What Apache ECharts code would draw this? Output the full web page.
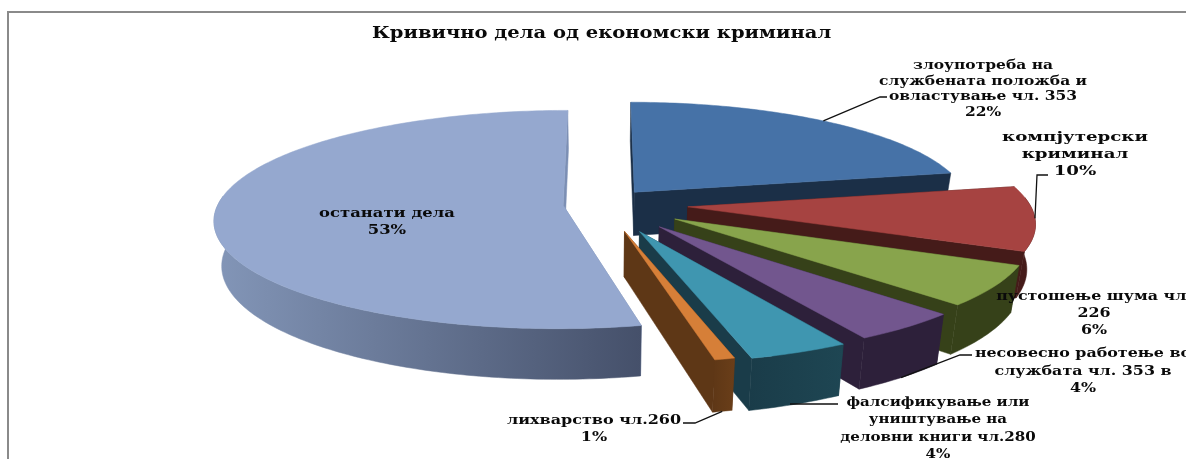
<!DOCTYPE html>
<html><head><meta charset="utf-8">
<style>html,body{margin:0;padding:0;background:#fff;overflow:hidden}#c{width:1186px;height:459px}</style>
<script src="https://cdn.jsdelivr.net/npm/echarts@6/dist/echarts.min.js"></script></head>
<body><div id="c"></div>
<script>
// data
var titleText = 'Кривично дела од економски криминал';
var categories = ['злоупотреба на\nслужбената положба и\nовластување чл. 353','компјутерски\nкриминал','пустошење шума чл.\n226','несовесно работење во\nслужбата чл. 353 в','фалсификување или\nуништување на\nделовни книги чл.280','лихварство чл.260','останати дела'];
var values = [21.9,9.6,5.9,4.4,4.0,0.8,53.4];
// styles
var topColors = ['#4672A7','#A64341','#88A44C','#72568E','#3F96B0','#D67F38','#95A8CF'];
var wallFrom  = ['#1B2F47','#451B19','#364119','#2D203A','#1A3C49','#5E3716','#8396B8'];
var wallTo    = ['#1B2F47','#451B19','#364119','#2D203A','#1E4653','#6A3E19','#45506A'];
var explode   = [50,85,85,90,93,88,40];
var radii     = [336,342,345,345,345,345,345];
var labelX    = [983,1075,1094,1083,938,594,387];
var labelY    = [58,129,288,345,394,412,205];
var labelLH   = [15.6,17,17,17.5,17.3,17,17];
var labelSize = [13,13,13,13,13,13,13];
var labelSX   = [1.19,1.4,1.22,1.22,1.16,1.23,1.26];
var leaderZ   = [0,0,null,1,1,1,null];
var leaderEl  = [[[880,97],[887,97]],[[1037,175],[1048,175]],null,[[960,355],[972,355]],[[790,404],[838,404]],[[695,423],[683,423]],null];
var scene = {x0:603,y0:204,tilt:0.31,persp:0.13,h:44,conv:0.02,rNorm:345};

var total = values.reduce(function(a,b){return a+b;},0);
function angles(i){var s=0;for(var j=0;j<i;j++)s+=values[j];return [s/total*2*Math.PI,(s+values[i])/total*2*Math.PI];}
function project(px,py,z){
  var s=1/(1-scene.persp*py/scene.rNorm), c=z?1-scene.conv:1;
  return [scene.x0+px*s*c, scene.y0+py*s*scene.tilt+z*scene.h*s];
}
function sliceOff(i){var a=angles(i),m=(a[0]+a[1])/2;return [explode[i]*Math.sin(m),-explode[i]*Math.cos(m)];}
function rim(i,th,z){var o=sliceOff(i);return project(o[0]+radii[i]*Math.sin(th),o[1]-radii[i]*Math.cos(th),z);}
function apex(i,z){var o=sliceOff(i);return project(o[0],o[1],z);}
function arc(i,z,from,to,rev){var n=Math.max(6,Math.round((to-from)*60)),pts=[];
  for(var k=0;k<=n;k++){pts.push(rim(i,from+(to-from)*k/n,z));}
  return rev?pts.reverse():pts;}
function poly(points,fill){return {type:'polygon',silent:true,shape:{points:points},style:{fill:fill,stroke:fill,lineWidth:0.5}};}
function renderItem(params,api){
  var i=api.value(0),a=angles(i),kids=[];
  var wall={type:'linear',x:0,y:0,x2:1,y2:0,colorStops:[{offset:0,color:wallFrom[i]},{offset:1,color:wallTo[i]}]};
  var faceCol=i===6?'#7C8FB4':wallFrom[i];
  kids.push(poly([apex(i,0),rim(i,a[0],0),rim(i,a[0],1),apex(i,1)],faceCol));
  kids.push(poly([apex(i,0),rim(i,a[1],0),rim(i,a[1],1),apex(i,1)],faceCol));
  var wa=Math.max(a[0],Math.PI*85/180),wb=Math.min(a[1],Math.PI*275/180);
  if(wb>wa){kids.push(poly(arc(i,0,wa,wb,false).concat(arc(i,1,wa,wb,true)),wall));}
  kids.push(poly([apex(i,0)].concat(arc(i,0,a[0],a[1],false)),topColors[i]));
  return {type:'group',children:kids};
}
function renderLabels(params,api){
  var i=api.value(0),a=angles(i),kids=[];
  if(leaderEl[i]){
    var m=(a[0]+a[1])/2;
    kids.push({type:'polyline',silent:true,shape:{points:[rim(i,m,leaderZ[i])].concat(leaderEl[i])},style:{stroke:'#111',lineWidth:1.3,fill:null}});
  }
  kids.push({type:'text',silent:true,x:labelX[i],y:labelY[i],scaleX:labelSX[i],
    style:{text:categories[i]+'\n'+Math.round(values[i])+'%',font:'bold '+labelSize[i]+'px "DejaVu Serif"',fill:'#0a0a0a',align:'center',verticalAlign:'top',lineHeight:labelLH[i]}});
  return {type:'group',children:kids};
}
var seriesData = values.map(function(v,i){return [i];});
var chart = echarts.init(document.getElementById('c'),null,{renderer:'canvas'});
chart.setOption({
  animation:false,
  backgroundColor:'#fff',
  graphic:[
    {type:'line',shape:{x1:8,y1:12,x2:1186,y2:12},style:{stroke:'#8a8a8a',lineWidth:2},silent:true},
    {type:'line',shape:{x1:8,y1:11,x2:8,y2:459},style:{stroke:'#8a8a8a',lineWidth:2},silent:true},
    {type:'text',x:372,y:26,scaleX:1.22,silent:true,style:{text:titleText,font:'bold 16px "DejaVu Serif"',fill:'#0a0a0a',align:'left',verticalAlign:'top'}}
  ],
  series:[
    {type:'custom',coordinateSystem:'none',renderItem:renderItem,data:seriesData,z:1},
    {type:'custom',coordinateSystem:'none',renderItem:renderLabels,data:seriesData,z:2}
  ]
});
</script></body></html>
